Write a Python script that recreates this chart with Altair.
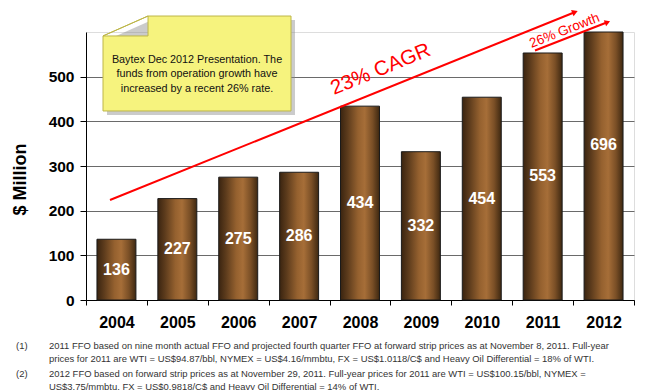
import altair as alt
import pandas as pd

years = ["2004", "2005", "2006", "2007", "2008", "2009", "2010", "2011", "2012"]
ffo = [136, 227, 275, 286, 434, 332, 454, 553, 696]
y_ticks = [0, 100, 200, 300, 400, 500]

callout_lines = ["Baytex Dec 2012 Presentation. The",
                 "funds from operation growth have",
                 "increased by a recent 26% rate."]
footnote_marks = ["(1)", "(2)"]
footnote_lines = [
    "2011 FFO based on nine month actual FFO and projected fourth quarter FFO at forward strip prices as at November 8, 2011. Full-year",
    "prices for 2011 are WTI = US$94.87/bbl, NYMEX = US$4.16/mmbtu, FX = US$1.0118/C$ and Heavy Oil Differential = 18% of WTI.",
    "2012 FFO based on forward strip prices as at November 29, 2011. Full-year prices for 2011 are WTI = US$100.15/bbl, NYMEX =",
    "US$3.75/mmbtu, FX = US$0.9818/C$ and Heavy Oil Differential = 14% of WTI.",
]

FONT = "Liberation Sans, Arial, sans-serif"
RED = "#ff0000"
FN_SIZE = 9.45

df = pd.DataFrame({"year": years, "ffo": ffo})
one = pd.DataFrame({"k": [0]})

xenc = alt.X("year:N", sort=years, title=None,
             scale=alt.Scale(paddingInner=0, paddingOuter=0),
             axis=alt.Axis(labelAngle=0, labelFont=FONT, labelFontSize=16,
                           labelFontWeight="bold", labelColor="black",
                           tickBand="extent", tickSize=5, tickColor="black",
                           domainColor="black", labelPadding=9, grid=False))
yenc = alt.Y("ffo:Q", title="$ Million",
             scale=alt.Scale(domain=[0, 600], clamp=True, nice=False),
             axis=alt.Axis(values=y_ticks, labelFont=FONT, labelFontSize=15.5,
                           labelFontWeight="bold", labelColor="black",
                           tickSize=6, tickColor="black", domainColor="black",
                           labelPadding=6, gridColor="#6a6a6a", gridWidth=1,
                           titleFont=FONT, titleFontSize=18, titleFontWeight="bold",
                           titleColor="black", titleAngle=270, titleAlign="center",
                           titleBaseline="middle", titleX=-66, titleY=147))

gradient = {
    "gradient": "linear", "x1": 0, "x2": 1, "y1": 0, "y2": 0,
    "stops": [
        {"offset": 0, "color": "#3a2410"},
        {"offset": 0.18, "color": "#5c3b1c"},
        {"offset": 0.45, "color": "#95612f"},
        {"offset": 0.62, "color": "#a66e38"},
        {"offset": 0.82, "color": "#7a4f26"},
        {"offset": 1, "color": "#3e2811"},
    ],
}

bars = alt.Chart(df).mark_bar(color=gradient, stroke="#1a1a1a", strokeWidth=1,
                              width={"band": 0.64}).encode(x=xenc, y=yenc)

labels = alt.Chart(df).transform_calculate(mid="datum.ffo / 2").mark_text(
    font=FONT, fontSize=16, fontWeight="bold", color="white", baseline="middle"
).encode(x=alt.X("year:N", sort=years), y=alt.Y("mid:Q"), text="ffo:Q")

# red growth arrows and captions
cagr_line = alt.Chart(one).mark_rule(color=RED, strokeWidth=2).encode(
    x=alt.value(24), y=alt.value(168), x2=alt.value(488), y2=alt.value(-19.5))
cagr_head = alt.Chart(one).mark_point(shape="triangle-right", filled=True, color=RED,
                                      size=45, angle=337.9, opacity=1).encode(
    x=alt.value(489), y=alt.value(-20))
cagr_text = alt.Chart(pd.DataFrame({"t": ["23% CAGR"]})).mark_text(
    font=FONT, fontSize=20.5, color=RED, angle=337.7, align="center",
    baseline="alphabetic").encode(x=alt.value(297), y=alt.value(43), text="t:N")

gr_line = alt.Chart(one).mark_rule(color=RED, strokeWidth=2).encode(
    x=alt.value(449), y=alt.value(18.5), x2=alt.value(520), y2=alt.value(-9.2))
gr_head = alt.Chart(one).mark_point(shape="triangle-right", filled=True, color=RED,
                                    size=40, angle=338.6, opacity=1).encode(
    x=alt.value(521.5), y=alt.value(-9.8))
gr_text = alt.Chart(pd.DataFrame({"t": ["26% Growth"]})).mark_text(
    font=FONT, fontSize=13.5, color=RED, angle=338.5, align="center",
    baseline="alphabetic").encode(x=alt.value(480), y=alt.value(2.5), text="t:N")

# callout note with folded corner
note_path = ("M -0.521 -0.505 L 1 -0.505 L 1 0.505 L -1 0.505 L -1 -0.293 Z "
             "M -1 -0.293 L -0.521 -0.293 L -0.521 -0.505 Z")
shadow_path = ("M -0.521 -0.505 L 1 -0.505 L 1 0.505 L -1 0.505 L -1 -0.293 Z")
note_shadow = alt.Chart(one).mark_point(shape=shadow_path, size=188 * 188, filled=True,
                                        fill="#8c8c8c", opacity=0.45, strokeWidth=0).encode(
    x=alt.value(115), y=alt.value(35.5))
note = alt.Chart(one).mark_point(shape=note_path, size=188 * 188, filled=True,
                                 fill="#f6f37e", stroke="#bdb648", strokeWidth=1,
                                 opacity=1).encode(
    x=alt.value(111), y=alt.value(31.5))
note_text = alt.Chart(pd.DataFrame({"t": [callout_lines]})).mark_text(
    font=FONT, fontSize=10.8, color="#111111", align="center", baseline="middle",
    lineHeight=14.2).encode(x=alt.value(111), y=alt.value(28.3), text="t")

# footnotes
fn_mark1 = alt.Chart(pd.DataFrame({"t": [footnote_marks[0]]})).mark_text(
    font=FONT, fontSize=FN_SIZE, color="#333333", align="left", baseline="middle").encode(
    x=alt.value(-70), y=alt.value(314), text="t:N")
fn_mark2 = alt.Chart(pd.DataFrame({"t": [footnote_marks[1]]})).mark_text(
    font=FONT, fontSize=FN_SIZE, color="#333333", align="left", baseline="middle").encode(
    x=alt.value(-70), y=alt.value(342), text="t:N")
fn_text1 = alt.Chart(pd.DataFrame({"t": [footnote_lines[0:2]]})).mark_text(
    font=FONT, fontSize=FN_SIZE, color="#333333", align="left", baseline="middle",
    lineHeight=13).encode(x=alt.value(-37), y=alt.value(314), text="t")
fn_text2 = alt.Chart(pd.DataFrame({"t": [footnote_lines[2:4]]})).mark_text(
    font=FONT, fontSize=FN_SIZE, color="#333333", align="left", baseline="middle",
    lineHeight=12.5).encode(x=alt.value(-37), y=alt.value(342), text="t")

chart = alt.layer(
    bars, labels, cagr_line, cagr_head, cagr_text, gr_line, gr_head, gr_text,
    note_shadow, note, note_text, fn_mark1, fn_mark2, fn_text1, fn_text2
).properties(
    width=548, height=268,
    autosize=alt.AutoSizeParams(type="none"),
    padding={"left": 78, "top": 24, "right": 2, "bottom": 90},
).configure_view(stroke=None).configure(background="white")

chart.save("out.html", embed_options={"renderer": "svg", "actions": False})
